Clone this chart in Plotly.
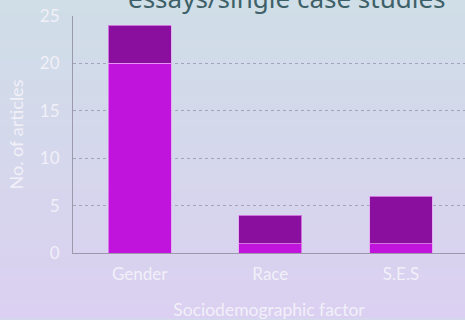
import plotly.graph_objects as go

categories = ["Gender", "Race", "S.E.S"]
bottom_values = [20, 1, 1]
top_values = [4, 3, 5]
y_ticks = [0, 5, 10, 15, 20, 25]

W, H = 465, 320
ML, MR, MT, MB = 73, 0, 16, 65
TXT = "#f1f0f8"

fig = go.Figure()
fig.add_trace(go.Bar(x=categories, y=bottom_values,
                     marker=dict(color="#c014dd", line=dict(color="rgba(235,160,245,0.7)", width=1)),
                     width=0.48, showlegend=False))
fig.add_trace(go.Bar(x=categories, y=top_values,
                     marker=dict(color="#8a0f9f", line=dict(color="rgba(235,160,245,0.7)", width=1)),
                     width=0.48, showlegend=False))

# background gradient bands (paper coords)
ph = H - MT - MB
pw = W - ML - MR
n = 80
top_c = (207, 222, 231)
bot_c = (219, 208, 241)
shapes = []
for i in range(n):
    t = i / (n - 1)
    c = tuple(round(top_c[k] + (bot_c[k] - top_c[k]) * t) for k in range(3))
    py0 = H * i / n - 0.5
    py1 = H * (i + 1) / n + 0.5
    shapes.append(dict(type="rect", xref="paper", yref="paper", layer="below",
                       x0=-0.3, x1=1.1,
                       y0=(H - MB - py1) / ph, y1=(H - MB - py0) / ph,
                       line=dict(width=0), fillcolor="rgb(%d,%d,%d)" % c))

fig.update_layout(
    width=W, height=H,
    margin=dict(l=ML, r=MR, t=MT, b=MB),
    barmode="stack",
    paper_bgcolor="rgb(213,215,236)", plot_bgcolor="rgba(0,0,0,0)",
    shapes=shapes,
    font=dict(family="Lato, sans-serif", color=TXT, size=17),
    xaxis=dict(range=[-0.51, 2.49], showline=True, linecolor="#9a9aac", linewidth=1,
               showgrid=False, ticks="", ticklabelstandoff=6, tickfont=dict(size=17, color=TXT),
               title=dict(text="Sociodemographic factor", font=dict(size=17.5, color=TXT), standoff=23)),
    yaxis=dict(range=[0, 25], tickvals=y_ticks, showline=True, linecolor="#9a9aac", linewidth=1,
               showgrid=True, gridcolor="#a1a6b6", griddash="3px,3px", gridwidth=1, zeroline=False,
               ticks="", ticklabelstandoff=9, tickfont=dict(size=17, color=TXT),
               title=dict(text="No. of articles", font=dict(size=18, color=TXT), standoff=11)),
    annotations=[dict(text="essays/single case studies", xref="paper", yref="paper",
                      x=(287 - ML) / pw, y=0.992, xanchor="center", yanchor="bottom", showarrow=False,
                      font=dict(family="Noto Sans, sans-serif", size=26, color="#3e6068"))],
)

fig.write_html("out.html", config={"displayModeBar": False},
               post_script="document.body.style.margin='0';document.body.style.overflow='hidden';")
